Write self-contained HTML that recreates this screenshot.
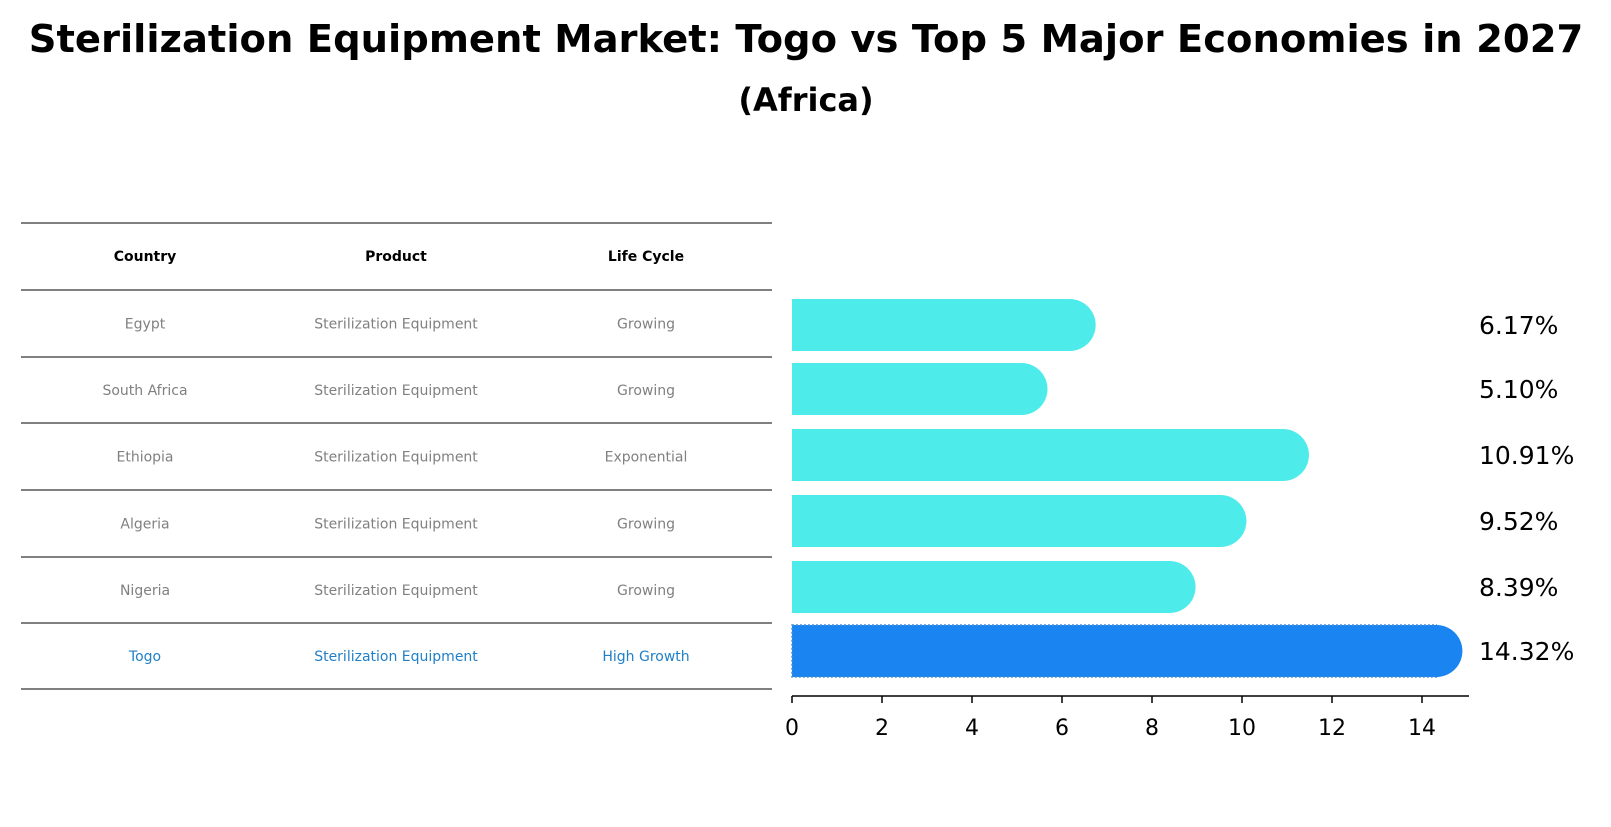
<!DOCTYPE html>
<html><head><meta charset="utf-8"><style>
body{margin:0;background:#fff;font-family:"DejaVu Sans","Liberation Sans",sans-serif;}
svg text{font-family:"DejaVu Sans","Liberation Sans",sans-serif;}
</style></head><body>
<svg width="1611" height="823" viewBox="0 0 1611 823">
<text x="806" y="52" text-anchor="middle" font-size="38.5" font-weight="bold">Sterilization Equipment Market: Togo vs Top 5 Major Economies in 2027</text>
<text x="806" y="111" text-anchor="middle" font-size="32" font-weight="bold">(Africa)</text>
<g id="table"></g>
<g id="bars"></g>
</svg>
<script>
const countries=["Egypt","South Africa","Ethiopia","Algeria","Nigeria","Togo"];
const products=["Sterilization Equipment","Sterilization Equipment","Sterilization Equipment","Sterilization Equipment","Sterilization Equipment","Sterilization Equipment"];
const lifeCycles=["Growing","Growing","Exponential","Growing","Growing","High Growth"];
const values=[6.17,5.10,10.91,9.52,8.39,14.32];
const ticks=[0,2,4,6,8,10,12,14];
const NS="http://www.w3.org/2000/svg";
function mk(tag,attrs,parent,txt){const e=document.createElementNS(NS,tag);for(const k in attrs)e.setAttribute(k,attrs[k]);if(txt!==undefined)e.textContent=txt;parent.appendChild(e);return e;}
const tbl=document.getElementById('table');
const lines=[223,290,357,423,490,557,623,689];
lines.forEach(y=>{const l=mk('line',{x1:21,x2:772,y1:y,y2:y,stroke:'#000','stroke-width':1},tbl);

});
const colX=[145,396,646];
["Country","Product","Life Cycle"].forEach((h,i)=>{const t=mk('text',{x:colX[i],y:261,'text-anchor':'middle','font-size':14,'font-weight':'bold'},tbl,h);

});
countries.forEach((c,r)=>{const y=(lines[r+1]+lines[r+2])/2+5;const col=r===5?'#1f7fc8':'#808080';
[c,products[r],lifeCycles[r]].forEach((v,i)=>{const t=mk('text',{x:colX[i],y:y,'text-anchor':'middle','font-size':14,fill:col},tbl,v);

});});
const bars=document.getElementById('bars');
const x0=792,unit=45,axY=696;
const xs=v=>x0+v*unit;
const centers=[325,389,455,521,587,651];
const bh=52;
values.forEach((v,i)=>{const cy=centers[i];const isT=i===5;const fill=isT?'#1a84f0':'#4deceb';
const g=mk('g',{},bars);


mk('rect',{x:x0,y:cy-bh/2,width:xs(v)-x0,height:bh,fill:fill,stroke:isT?'#4a8fd8':'none','stroke-dasharray':'2,2','stroke-width':1.5},g);
mk('circle',{cx:xs(v),cy:cy,r:bh/2,fill:fill},g);
const t=mk('text',{x:1479,y:cy+9,'font-size':25},bars,v.toFixed(2)+'%');

});
const ax=mk('line',{x1:x0,x2:1469,y1:axY,y2:axY,stroke:'#000','stroke-width':1.5},bars);


ticks.forEach(tk=>{const l=mk('line',{x1:xs(tk),x2:xs(tk),y1:axY,y2:axY+7,stroke:'#000','stroke-width':1.5},bars);


const t=mk('text',{x:xs(tk),y:735,'text-anchor':'middle','font-size':22},bars,tk);

});
</script>
</body></html>
